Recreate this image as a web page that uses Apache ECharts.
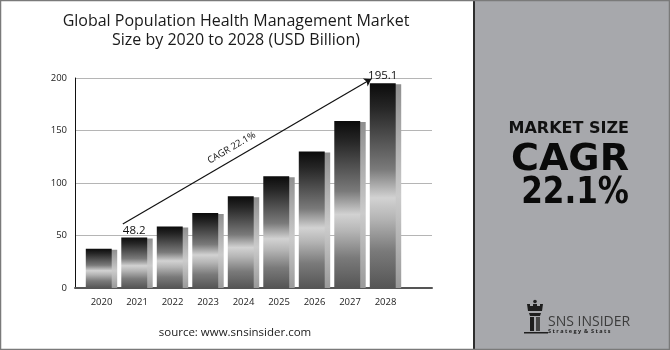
<!DOCTYPE html>
<html>
<head>
<meta charset="utf-8">
<script src="https://cdn.jsdelivr.net/npm/echarts@6/dist/echarts.min.js"></script>
<style>html,body{margin:0;padding:0;background:#fff}#c{width:670px;height:350px}</style>
</head>
<body>
<div id="c"></div>
<script>
const years = [2020, 2021, 2022, 2023, 2024, 2025, 2026, 2027, 2028];
const values = [37.5, 48.2, 58.5, 71.5, 87.5, 106.5, 130, 159, 195.1];
const valueLabels = ['', '48.2', '', '', '', '', '', '', '195.1'];
const yTicks = [0, 50, 100, 150, 200];
const arrowFrom = [2020.6, 61];
const arrowTo = [2027.6, 199];
const cagrText = 'CAGR 22.1%';

const chart = echarts.init(document.getElementById('c'));
const FONT = '"Open Sans", sans-serif';

function renderBar(params, api) {
  const x = api.value(0), v = api.value(1);
  const top = api.coord([x, v]);
  const base = api.coord([x, 0]);
  const band = api.size([1, 0])[0];
  const fw = band * 0.73, off = band * 0.155;
  const left = top[0] - (fw + off) / 2;
  const h = base[1] - top[1];
  const children = [
    {type: 'rect', shape: {x: left + off, y: top[1] + 1, width: fw, height: h - 1},
     style: {fill: new echarts.graphic.LinearGradient(0, 0, 0, 1, [
       {offset: 0, color: '#8f8f8f'}, {offset: 0.55, color: '#cbcbcb'}, {offset: 1, color: '#9a9a9a'}])}},
    {type: 'rect', shape: {x: left, y: top[1], width: fw, height: h},
     style: {fill: new echarts.graphic.LinearGradient(0, 0, 0, 1, [
       {offset: 0, color: '#0b0b0b'}, {offset: 0.12, color: '#262626'}, {offset: 0.42, color: '#7a7a7a'},
       {offset: 0.56, color: '#d2d2d2'}, {offset: 0.66, color: '#b5b5b5'}, {offset: 0.82, color: '#7a7a7a'},
       {offset: 1, color: '#555555'}])}}
  ];
  const lbl = valueLabels[params.dataIndex];
  if (lbl) {
    children.push({type: 'text', style: {text: lbl, x: left + fw / 2, y: top[1] - 1, align: 'center',
      verticalAlign: 'bottom', font: '11.5px ' + FONT, fill: '#111'}});
  }
  return {type: 'group', children};
}

chart.setOption({
  animation: false,
  grid: {left: 75, right: 238, top: 78, bottom: 62},
  xAxis: {
    type: 'value', min: 2019.2535, max: 2029.31,
    axisLine: {show: true, onZero: false, lineStyle: {color: '#555', width: 2}},
    axisTick: {show: false},
    splitLine: {show: false},
    axisLabel: {customValues: years, margin: 9, color: '#222', fontFamily: FONT, fontSize: 9.5,
      formatter: v => String(Math.round(v))}
  },
  yAxis: {
    type: 'value', min: 0, max: 200, interval: 50,
    axisLine: {show: true, lineStyle: {color: '#111', width: 1}},
    axisTick: {show: false},
    splitLine: {lineStyle: {color: '#b5b5b5', width: 1}},
    axisLabel: {margin: 8, color: '#222', fontFamily: FONT, fontSize: 9.5, customValues: yTicks}
  },
  series: [
    {type: 'custom', renderItem: renderBar, data: years.map((y, i) => [y, values[i]]), z: 3},
    {type: 'lines', coordinateSystem: 'cartesian2d', z: 4,
     symbol: ['none', 'arrow'], symbolSize: 7,
     lineStyle: {color: '#111', width: 1.2, opacity: 1},
     data: [{coords: [arrowFrom, arrowTo]}]}
  ]
});

const p1 = chart.convertToPixel({gridIndex: 0}, arrowFrom);
const p2 = chart.convertToPixel({gridIndex: 0}, arrowTo);
const ang = Math.atan2(p1[1] - p2[1], p2[0] - p1[0]);
const t = 0.46;
const mx = p1[0] + (p2[0] - p1[0]) * t, my = p1[1] + (p2[1] - p1[1]) * t;
const nx = -Math.sin(ang) * 11, ny = -Math.cos(ang) * 11;

const graphics = [
  {type: 'rect', shape: {x: 475, y: 0, width: 195, height: 350}, style: {fill: '#a7a8ac'}, z: -10},
  {type: 'rect', shape: {x: 473, y: 0, width: 2, height: 350}, style: {fill: '#2e2e2e'}},
  {type: 'rect', shape: {x: 0.5, y: 0.5, width: 669, height: 349}, style: {fill: 'none', stroke: '#7a7a7a', lineWidth: 1.5}},
  {type: 'text', style: {text: 'Global Population Health Management Market', x: 236, y: 21, align: 'center', verticalAlign: 'middle', font: '16px ' + FONT, fill: '#1a1a1a'}},
  {type: 'text', style: {text: 'Size by 2020 to 2028 (USD Billion)', x: 236, y: 40, align: 'center', verticalAlign: 'middle', font: '16px ' + FONT, fill: '#1a1a1a'}},
  {type: 'text', style: {text: 'source: www.snsinsider.com', x: 235, y: 333, align: 'center', verticalAlign: 'middle', font: '11.5px ' + FONT, fill: '#1a1a1a'}},
  {type: 'text', x: mx + nx, y: my + ny, rotation: ang, style: {text: cagrText, x: 0, y: 0, align: 'center', verticalAlign: 'middle', font: '9.5px ' + FONT, fill: '#111'}},
  {type: 'text', style: {text: 'MARKET SIZE', x: 629, y: 129, align: 'right', verticalAlign: 'middle', font: 'bold 16px "DejaVu Sans", sans-serif', fill: '#111'}},
  {type: 'text', x: 629, y: 160, scaleX: 1.03, style: {text: 'CAGR', x: 0, y: 0, align: 'right', verticalAlign: 'middle', font: 'bold 37px "DejaVu Sans", sans-serif', fill: '#0a0a0a'}},
  {type: 'text', x: 629, y: 193, scaleX: 0.84, style: {text: '22.1%', x: 0, y: 0, align: 'right', verticalAlign: 'middle', font: 'bold 37px "DejaVu Sans", sans-serif', fill: '#0a0a0a'}},
  {type: 'text', style: {text: 'SNS INSIDER', x: 548, y: 322, align: 'left', verticalAlign: 'middle', font: '14px ' + FONT, fill: '#3c3c3c'}},
  {type: 'text', style: {text: 'S t r a t e g y  &  S t a t s', x: 548, y: 331, align: 'left', verticalAlign: 'middle', font: 'bold 5.5px ' + FONT, fill: '#222'}},
  // rook logo
  {type: 'circle', shape: {cx: 535, cy: 301.5, r: 1.8}, style: {fill: '#222'}},
  {type: 'polygon', shape: {points: [[527,304],[530,304],[530,306],[533,306],[533,304],[537,304],[537,306],[540,306],[540,304],[543,304],[542,311],[528,311]]}, style: {fill: '#1e1e1e'}},
  {type: 'polygon', shape: {points: [[529,313],[541,313],[540,316],[530,316]]}, style: {fill: '#1e1e1e'}},
  {type: 'polygon', shape: {points: [[530,317],[534,317],[534,331],[530,331]]}, style: {fill: '#1e1e1e'}},
  {type: 'polygon', shape: {points: [[536,317],[540,317],[540,331],[536,331]]}, style: {fill: '#444'}},
  {type: 'rect', shape: {x: 524, y: 332, width: 24, height: 1.5}, style: {fill: '#1e1e1e'}}
];
chart.setOption({graphic: graphics});
</script>
</body>
</html>
